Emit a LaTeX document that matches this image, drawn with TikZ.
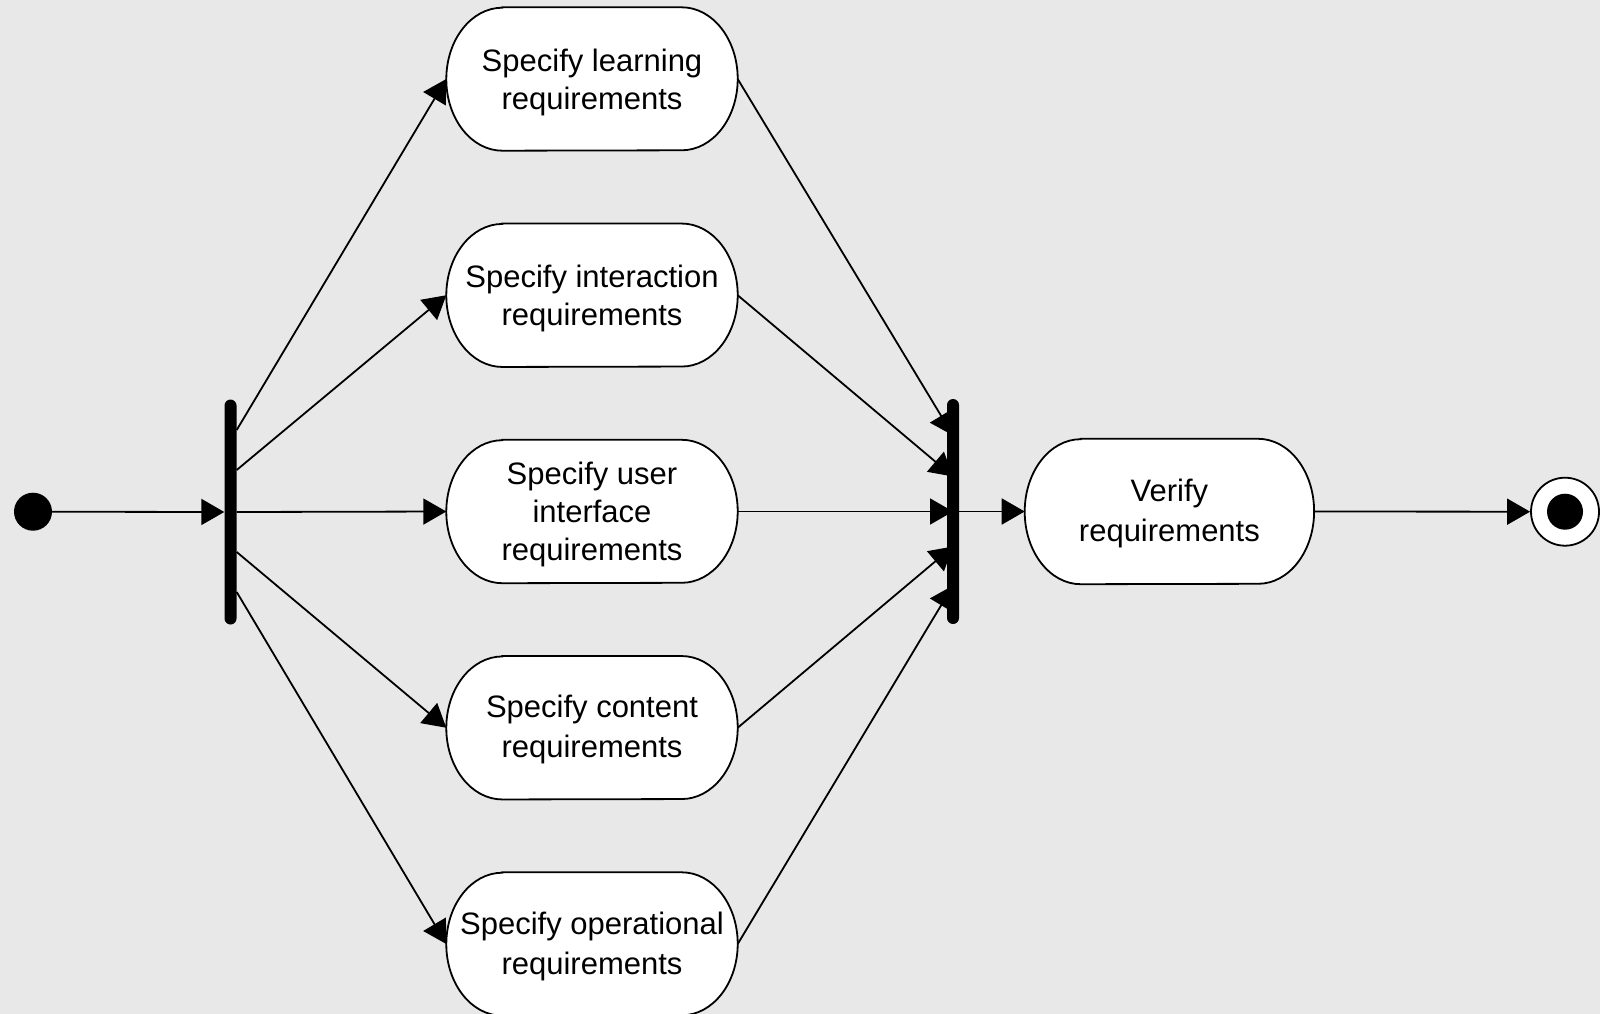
\documentclass[tikz,border=0pt]{standalone}
\usepackage{fontspec}
\setmainfont{Liberation Sans}
\usetikzlibrary{arrows.meta,calc}
\pgfdeclarelayer{bg}
\pgfdeclarelayer{edges}
\pgfsetlayers{bg,edges,main}
\definecolor{bgcol}{RGB}{232,232,232}
\newcommand{\actshape}[2]{%
  \filldraw[actline] ($(#1.north west)+(56,0)$) -- ($(#1.north east)+(-56,0)$)
    arc[start angle=90,end angle=-90,x radius=56pt,y radius=#2pt]
    -- ($(#1.south west)+(56,0)$)
    arc[start angle=270,end angle=90,x radius=56pt,y radius=#2pt] -- cycle;}
\begin{document}
\begin{tikzpicture}[x=1pt,y=-1pt,
  act/.style={minimum width=291pt,minimum height=143pt,inner sep=0pt},
  lbl/.style={align=center,inner sep=0pt,yshift=-3pt,font=\fontsize{31}{38}\selectfont},
  lblb/.style={align=center,inner sep=0pt,yshift=-2pt,font=\fontsize{31}{40}\selectfont},
  actline/.style={draw=black,fill=white,line width=1.8pt},
  bar/.style={fill=black,minimum width=12pt,minimum height=225pt,inner sep=0pt,rounded corners=6pt},
  flow/.style={line width=1.8pt,-{Triangle[length=23pt,width=26pt]}}]
\useasboundingbox (0,0) rectangle (1600,1014);
\node[circle,fill=black,minimum size=38pt,inner sep=0pt] (start) at (33,511.7) {};
\node[bar] (fork) at (230.5,512) {};
\node[bar] (join) at (953,511.5) {};
\node[act,label={[lbl]center:{Specify learning\\requirements}}] (learn) at (592,79) {};
\node[act,label={[lbl]center:{Specify interaction\\requirements}}] (inter) at (592,295.25) {};
\node[act,label={[lbl]center:{Specify user\\interface\\requirements}}] (ui) at (592,511.5) {};
\node[act,label={[lblb]center:{Specify content\\requirements}}] (content) at (592,727.75) {};
\node[act,label={[lblb]center:{Specify operational\\requirements}}] (oper) at (592,944) {};
\node[act,minimum width=289pt,minimum height=145pt,label={[lblb]center:{Verify\\requirements}}] (verify) at (1169.4,511.5) {};
\node[circle,draw=black,line width=1.8pt,fill=white,minimum size=68pt,inner sep=0pt] (end) at (1565,511.7) {};
\node[circle,fill=black,minimum size=36pt,inner sep=0pt] (endin) at (end) {};
\begin{pgfonlayer}{bg}
\fill[bgcol] (0,0) rectangle (1600,1014);
\actshape{learn}{71.5}
\actshape{inter}{71.5}
\actshape{ui}{71.5}
\actshape{content}{71.5}
\actshape{oper}{71.5}
\actshape{verify}{72.5}
\end{pgfonlayer}
\begin{pgfonlayer}{edges}
\draw[flow] (start) -- (fork.west);
\draw[flow] ($(fork.east)+(0,-82)$) -- (learn.west);
\draw[flow] ($(fork.east)+(0,-42)$) -- (inter.west);
\draw[flow] (fork.east) -- (ui.west);
\draw[flow] ($(fork.east)+(0,40)$) -- (content.west);
\draw[flow] ($(fork.east)+(0,80)$) -- (oper.west);
\draw[flow] (learn.east) -- ($(join.center)+(0,-76)$);
\draw[flow] (inter.east) -- ($(join.center)+(0,-35)$);
\draw[flow] (ui.east) -- (join.center);
\draw[flow] (content.east) -- ($(join.center)+(0,35)$);
\draw[flow] (oper.east) -- ($(join.center)+(0,74)$);
\draw[flow] (join.east) -- (verify.west);
\draw[flow] (verify.east) -- (end.west);
\end{pgfonlayer}
\end{tikzpicture}
\end{document}
